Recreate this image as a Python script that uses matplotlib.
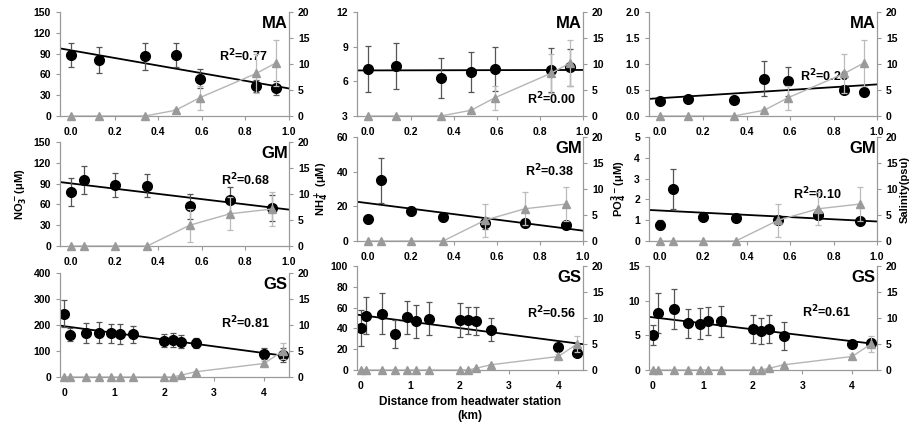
import matplotlib
matplotlib.use("Agg")
import matplotlib.pyplot as plt
import numpy as np

plt.rcParams['font.family'] = ['Liberation Sans', 'DejaVu Sans']
plt.rcParams['font.weight'] = 'bold'
plt.rcParams['mathtext.default'] = 'bf'

# station distances
x_ma = [0.0, 0.13, 0.34, 0.48, 0.59, 0.85, 0.94]
x_gm = [0.0, 0.06, 0.2, 0.35, 0.545, 0.73, 0.92]
x_gs = [0.0, 0.11, 0.43, 0.70, 0.94, 1.11, 1.37, 2.0, 2.17, 2.34, 2.63, 4.0, 4.38]

# salinity (psu)
sal_ma = [0, 0, 0, 1.1, 3.5, 8.2, 10.2]
sal_ma_err = [0, 0, 0, 0.3, 2.3, 3.7, 4.4]
sal_gm = [0, 0, 0, 0, 4.0, 6.2, 7.1]
sal_gm_err = [0, 0, 0, 0, 3.2, 3.2, 3.2]
sal_gs = [0, 0, 0, 0, 0, 0, 0, 0, 0, 0.35, 1.0, 2.6, 5.0]
sal_gs_err = [0, 0, 0, 0, 0, 0, 0, 0, 0, 0.1, 0.2, 0.5, 1.5]

# nutrients (uM)
no3_ma = [88, 81, 86, 88, 54, 43, 40]
no3_ma_err = [18, 19, 19, 18, 14, 9, 10]
nh4_ma = [7.1, 7.3, 6.3, 6.8, 7.1, 6.95, 7.2]
nh4_ma_err = [2.0, 2.0, 1.7, 1.7, 1.9, 1.9, 1.6]
po4_ma = [0.29, 0.32, 0.31, 0.72, 0.67, 0.50, 0.47]
po4_ma_err = [0.03, 0.03, 0.03, 0.33, 0.28, 0.05, 0.05]

no3_gm = [78, 95, 88, 87, 57, 66, 55]
no3_gm_err = [20, 20, 18, 17, 18, 19, 19]
nh4_gm = [12.6, 35, 17.3, 13.7, 10.1, 10.3, 9.4]
nh4_gm_err = [2, 13, 2.5, 2, 3, 2, 2]
po4_gm = [0.79, 2.49, 1.14, 1.11, 1.0, 1.27, 0.98]
po4_gm_err = [0.2, 0.95, 0.1, 0.08, 0.1, 0.2, 0.1]

no3_gs = [243, 162, 170, 171, 168, 166, 164, 140, 144, 135, 130, 90, 85]
no3_gs_err = [52, 25, 38, 40, 37, 38, 33, 25, 27, 25, 20, 22, 28]
nh4_gs = [40.3, 52.4, 54.3, 34.6, 50.5, 46.7, 49.2, 48.3, 47.6, 46.7, 38.7, 21.9, 16.5]
nh4_gs_err = [17, 18, 19.5, 13, 16, 16, 16, 16.5, 13, 13.5, 11, 3, 2]
po4_gs = [5.05, 8.25, 8.8, 6.75, 6.7, 7.08, 7.0, 5.9, 5.66, 5.9, 4.95, 3.7, 3.9]
po4_gs_err = [1.4, 2.9, 2.9, 2.1, 2.3, 2.05, 2.2, 2.0, 1.9, 2.0, 2.0, 0.2, 0.5]

r2_labels = [["R$^2$=0.77", "R$^2$=0.00", "R$^2$=0.28"],
             ["R$^2$=0.68", "R$^2$=0.38", "R$^2$=0.10"],
             ["R$^2$=0.81", "R$^2$=0.56", "R$^2$=0.61"]]
r2_pos = [[(0.80, 0.58), (0.86, 0.16), (0.77, 0.38)],
          [(0.81, 0.63), (0.85, 0.67), (0.74, 0.45)],
          [(0.81, 0.52), (0.86, 0.55), (0.78, 0.56)]]
sites = ["MA", "GM", "GS"]

panels = [
    [(x_ma, no3_ma, no3_ma_err, (0, 150, 30)), (x_ma, nh4_ma, nh4_ma_err, (3, 12, 3)), (x_ma, po4_ma, po4_ma_err, (0, 2, 0.5))],
    [(x_gm, no3_gm, no3_gm_err, (0, 150, 30)), (x_gm, nh4_gm, nh4_gm_err, (0, 60, 20)), (x_gm, po4_gm, po4_gm_err, (0, 5, 1))],
    [(x_gs, no3_gs, no3_gs_err, (0, 400, 100)), (x_gs, nh4_gs, nh4_gs_err, (0, 100, 20)), (x_gs, po4_gs, po4_gs_err, (0, 15, 5))],
]
sal = [(x_ma, sal_ma, sal_ma_err), (x_gm, sal_gm, sal_gm_err), (x_gs, sal_gs, sal_gs_err)]

W, H = 915, 425
lefts = [60, 357, 649]
widths = [229, 226, 228]
# top pixel of each panel [row][col]
tops = [[12, 12, 12], [142, 137, 137], [273, 266, 266]]
ph = 104

fig = plt.figure(figsize=(9.15, 4.25), dpi=100)
gray = '#999999'
axes = {}
for r in range(3):
    for c in range(3):
        left = lefts[c] / W
        bottom = 1 - (tops[r][c] + ph) / H
        ax = fig.add_axes([left, bottom, widths[c] / W, ph / H])
        ax2 = ax.twinx()
        axes[(r, c)] = ax
        xs, ys, es, (y0, y1, ystep) = panels[r][c]
        xs = np.array(xs)
        ys = np.array(ys)
        if r < 2:
            xlim = (-0.05, 1.0)
        else:
            xlim = (-0.08, 4.5)

        ax.errorbar(xs, ys, yerr=es, fmt='o', color='black', ms=7,
                    ecolor='#555555', elinewidth=0.9, capsize=2.5, capthick=0.9, zorder=3)
        k, b = np.polyfit(xs, ys, 1)
        xl = np.array(xlim)
        ax.plot(xl, k * xl + b, color='black', lw=1.3, zorder=2)

        sx, sy, se = sal[r]
        ax2.plot(sx, sy, '-', color='#b5b5b5', lw=1.0)
        ax2.errorbar(sx, sy, yerr=se, fmt='^', color='#9a9a9a', ms=5.5,
                     ecolor='#bbbbbb', elinewidth=0.9, capsize=2.5, capthick=0.9,
                     markeredgecolor='#9a9a9a', clip_on=False, zorder=4)

        ax.set_xlim(xlim)
        ax.set_ylim(y0, y1)
        ax.set_yticks(np.arange(y0, y1 + ystep / 2, ystep))
        ax2.set_ylim(0, 20)
        ax2.set_yticks([0, 5, 10, 15, 20])
        if r < 2:
            ax.set_xticks(np.arange(0, 1.01, 0.2))
            ax.set_xticklabels(["%.1f" % t for t in np.arange(0, 1.01, 0.2)])
        else:
            ax.set_xticks([0, 1, 2, 3, 4])
        if (r, c) == (0, 2):
            ax.set_yticklabels(["%.1f" % t for t in np.arange(0, 2.01, 0.5)])

        for a in (ax, ax2):
            a.spines['top'].set_visible(False)
            for s in ('left', 'right', 'bottom'):
                a.spines[s].set_color(gray)
            a.tick_params(colors=gray, labelcolor='black', labelsize=7.5, length=3, width=0.8)
            for lab in a.get_xticklabels() + a.get_yticklabels():
                lab.set_fontweight('bold')
        ax.tick_params(axis='x', pad=5)

        ax.text(0.995, 0.89, sites[r], transform=ax.transAxes, ha='right', va='center',
                fontsize=12, fontweight='bold')
        px, py = r2_pos[r][c]
        ax.text(px, py, r2_labels[r][c], transform=ax.transAxes, ha='center', va='center',
                fontsize=9, fontweight='bold')

axes[(1, 0)].set_ylabel("NO$_3^-$(\u03bcM)", fontsize=8, labelpad=4, fontweight='bold')
axes[(1, 1)].set_ylabel("NH$_4^+$ (\u03bcM)", fontsize=8, labelpad=4, fontweight='bold')
axes[(1, 2)].set_ylabel("PO$_4^{3-}$(\u03bcM)", fontsize=8, labelpad=4, fontweight='bold')
fig.text(905 / W, 1 - 190 / H, "Salinity(psu)", rotation=90, ha='center', va='center',
         fontsize=8, fontweight='bold')
fig.text(470 / W, 1 - 409 / H, "Distance from headwater station\n(km)", ha='center', va='center',
         fontsize=8.5, fontweight='bold', linespacing=1.3)

plt.savefig("out.png", dpi=100)
